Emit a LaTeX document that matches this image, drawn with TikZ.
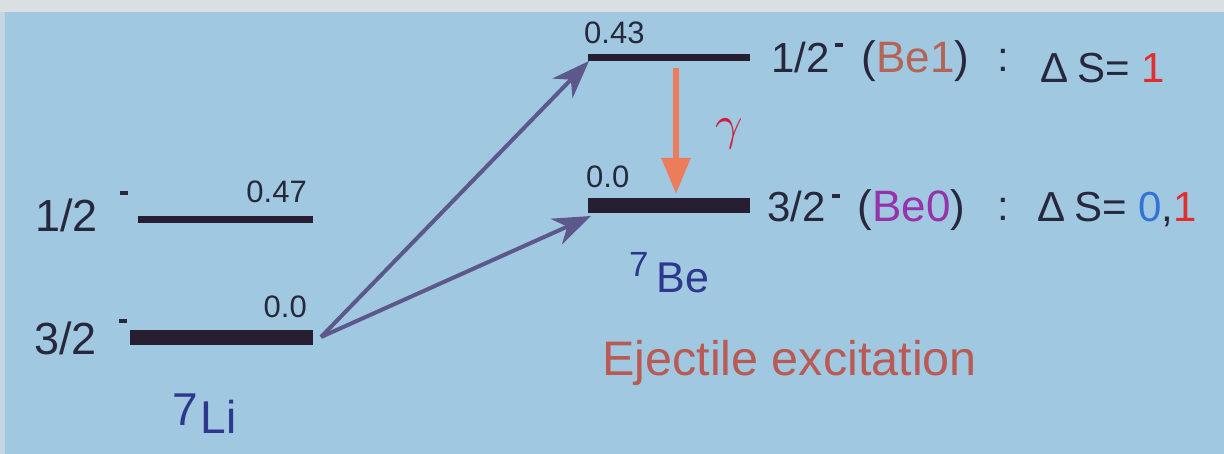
\documentclass[tikz,border=0pt]{standalone}
\usepackage{fontspec}
\setmainfont{Liberation Sans}
\usetikzlibrary{arrows.meta}
\definecolor{bgblue}{RGB}{160,200,224}
\definecolor{bandgray}{RGB}{218,224,226}
\definecolor{levelc}{RGB}{40,30,50}
\definecolor{txtc}{RGB}{40,40,60}
\definecolor{nucblue}{RGB}{45,55,140}
\definecolor{arrowc}{RGB}{92,88,140}
\definecolor{gamc}{RGB}{235,125,92}
\definecolor{gamtxt}{RGB}{205,30,60}
\definecolor{be1c}{RGB}{180,100,85}
\definecolor{be0c}{RGB}{150,50,170}
\definecolor{redc}{RGB}{225,45,45}
\definecolor{bluec}{RGB}{50,115,215}
\definecolor{ejc}{RGB}{185,90,85}
\tikzset{
  thinlevel/.style={draw=levelc,line width=7pt},
  thicklevel/.style={draw=levelc,line width=15pt},
  biglabel/.style={inner sep=0pt,text=txtc,font=\fontsize{42}{46}\selectfont},
  numlabel/.style={inner sep=0pt,text=txtc,font=\fontsize{31}{34}\selectfont},
  nuclabel/.style={inner sep=0pt,text=nucblue},
  excarrow/.style={draw=arrowc,line width=4pt,-{Stealth[length=38pt,width=28pt,inset=12pt]}},
  gamarrow/.style={draw=gamc,line width=6pt,-{Triangle[length=36pt,width=28pt]}},
}
\newcommand{\mnus}[1]{\rule[#1]{8pt}{3.5pt}}
\begin{document}
\begin{tikzpicture}[x=1pt,y=-1pt]
\useasboundingbox (0,0) rectangle (1224,454);
\fill[bgblue] (0,0) rectangle (1224,454);
\fill[bandgray] (0,0) rectangle (1224,12);
\fill[bandgray!60!bgblue] (0,12) rectangle (5,454);
% level coordinates
\coordinate (liA0) at (130,338); \coordinate (liB0) at (313,338);
\coordinate (liA1) at (138,220); \coordinate (liB1) at (313,220);
\coordinate (beA1) at (588,58);  \coordinate (beB1) at (750,58);
\coordinate (beA0) at (588,205.5); \coordinate (beB0) at (750,205.5);
\coordinate (src) at (321,337);
\coordinate (tip1) at (589,61);
\coordinate (tip0) at (591,216);
\coordinate (gtop) at (676,68);
\coordinate (gbot) at (676,194);
% levels
\draw[thicklevel] (liA0) -- (liB0);
\draw[thinlevel] (liA1) -- (liB1);
\draw[thinlevel] (beA1) -- (beB1);
\draw[thicklevel] (beA0) -- (beB0);
% arrows
\draw[excarrow] (src) -- (tip1);
\draw[excarrow] (src) -- (tip0);
\draw[gamarrow] (gtop) -- (gbot);
\node[inner sep=0pt,text=gamtxt,anchor=center] (gam) at (729,134) {\scalebox{4.8}{$\gamma$}};
% Li labels
\node[biglabel,anchor=base west,font=\fontsize{45}{48}\selectfont] (l12) at (35,232) {1/2\hspace{22pt}\mnus{37pt}};
\node[biglabel,anchor=base west,font=\fontsize{45}{48}\selectfont] (l32) at (34,355) {3/2\hspace{22pt}\mnus{32pt}};
\node[numlabel,anchor=base east] (e047) at (307,203) {0.47};
\node[numlabel,anchor=base east] (e00li) at (307,318) {0.0};
\node[nuclabel,anchor=base west,font=\fontsize{46}{50}\selectfont] (li7) at (172,433) {\raisebox{8pt}{7}\kern3pt Li};
% Be labels
\node[numlabel,anchor=base west] (e043) at (584,44) {0.43};
\node[numlabel,anchor=base west] (e00be) at (586,188) {0.0};
\node[biglabel,anchor=base west] (b12) at (771,73) {1/2\kern5pt\mnus{26pt}\hspace{19pt}{\fontsize{44}{46}\selectfont(\textcolor{be1c}{Be1})}};
\node[biglabel,anchor=base west] (c1) at (997,72) {:};
\node[biglabel,anchor=base west] (d1) at (1040,83) {Δ\kern9pt S= \textcolor{redc}{1}};
\node[biglabel,anchor=base west] (b32) at (767,222) {3/2\kern6pt\mnus{24pt}\hspace{18pt}{\fontsize{44}{46}\selectfont(\textcolor{be0c}{Be0})}};
\node[biglabel,anchor=base west] (c0) at (997,221) {:};
\node[biglabel,anchor=base west] (d0) at (1037,222) {Δ\kern9pt S= \textcolor{bluec}{0},\textcolor{redc}{1}};
\node[nuclabel,anchor=base west] (be7) at (629,293) {\raisebox{16pt}{\fontsize{35}{38}\selectfont 7}\kern8pt{\fontsize{43}{46}\selectfont Be}};
\node[inner sep=0pt,anchor=base west,text=ejc,font=\fontsize{48.5}{52}\selectfont] (ej) at (602,376) {Ejectile excitation};
\end{tikzpicture}
\end{document}
